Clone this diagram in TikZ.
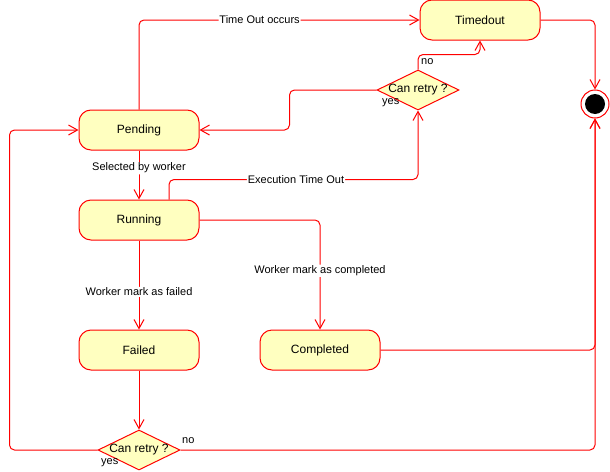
\documentclass[tikz,border=0pt]{standalone}
\usepackage{fontspec}
\setmainfont{Liberation Sans}
\usetikzlibrary{arrows.meta,shapes.geometric}
\definecolor{yel}{HTML}{FFFFC0}
\definecolor{rd}{HTML}{FF0000}
\begin{document}
\begin{tikzpicture}[x=1pt,y=-1pt,
  statebox/.style={draw=rd, fill=yel, line width=1pt, rounded corners=12pt, minimum width=120pt, minimum height=40pt, inner sep=0pt, font=\fontsize{12}{14}\selectfont},
  decbox/.style={draw=rd, fill=yel, line width=1pt, shape=diamond, minimum width=82pt, minimum height=40pt, inner sep=0pt, font=\fontsize{12}{14}\selectfont},
  conn/.style={draw=rd, line width=1pt, rounded corners=5pt, -{Straight Barb[length=9pt,width=10pt]}},
  lbl/.style={fill=white, inner sep=1pt, font=\fontsize{11}{13}\selectfont},
  smalllbl/.style={inner sep=1pt, font=\fontsize{11}{13}\selectfont}]
\useasboundingbox (0,0) rectangle (610,471);
\fill[white] (0,0) rectangle (610,471);

\node[statebox] (tout) at (480,20) {Timedout};
\node[circle, draw=rd, fill=white, line width=1pt, minimum size=28pt, inner sep=0pt] (fin) at (595,104) {};
\node[circle, fill=black, minimum size=20pt, inner sep=0pt] (fininner) at (fin.center) {};
\node[decbox] (d1) at (418,90) {\makebox[0pt]{Can retry ?}};
\node[statebox] (pend) at (139,130) {Pending};
\node[statebox] (run) at (139,220) {Running};
\node[statebox] (fail) at (139,350) {Failed};
\node[statebox] (comp) at (320,350) {Completed};
\node[decbox] (d2) at (139,450) {\makebox[0pt]{Can retry ?}};

\draw[conn] (pend.north) |- node[lbl, pos=0.715] {Time Out occurs} (tout.west);
\draw[conn] (tout.east) -| (fin.north);
\draw[conn] (d1.north) -- ++(0,-15) -| (tout.south);
\node[smalllbl, anchor=west] (nolbl1) at (420,62) {no};
\draw[conn] (d1.west) -- ++(-87,0) |- (pend.east);
\node[smalllbl, anchor=west] (yeslbl1) at (381,103) {yes};
\draw[conn] (pend.south) -- node[lbl, pos=0.36] {Selected by worker} (run.north);
\draw[conn] ([xshift=30pt]run.north) -- ++(0,-20) -| node[lbl, pos=0.255] {Execution Time Out} (d1.south);
\draw[conn] (run.east) -| node[lbl, pos=0.732] {Worker mark as completed} (comp.north);
\draw[conn] (run.south) -- node[lbl, pos=0.578] {Worker mark as failed} (fail.north);
\draw[conn] (fail.south) -- (d2.north);
\draw[conn] (d2.west) -- ++(-88,0) |- (pend.west);
\node[smalllbl, anchor=west] (yeslbl2) at (100,463) {yes};
\draw[conn] (d2.east) -| (fin.south);
\node[smalllbl, anchor=west] (nolbl2) at (181,441) {no};
\draw[conn] (comp.east) -| (fin.south);
\end{tikzpicture}
\end{document}
